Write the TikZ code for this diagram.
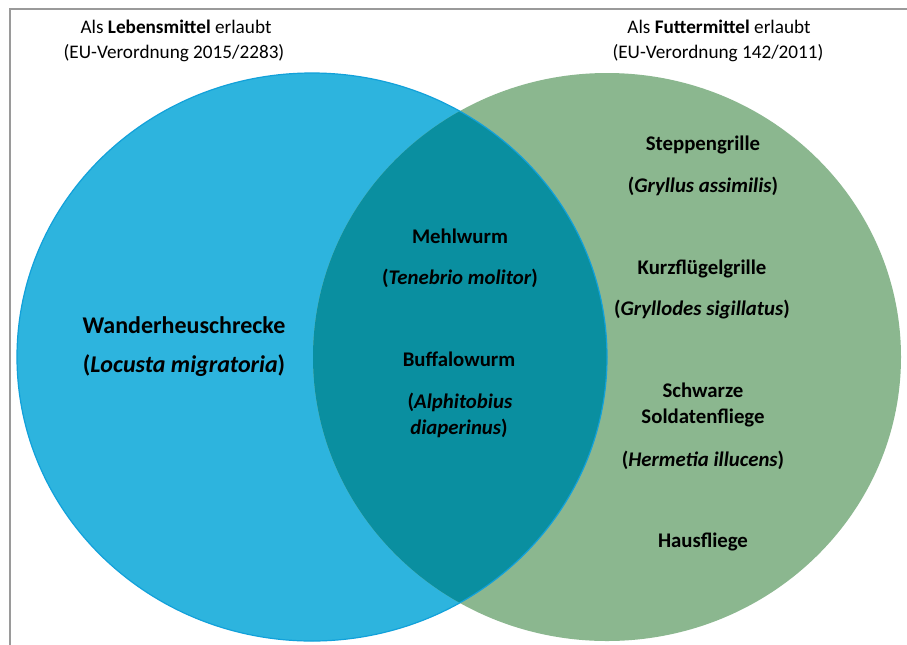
\documentclass[tikz,border=0pt]{standalone}
\usepackage{fontspec}
\setmainfont{Carlito}
\definecolor{blueF}{HTML}{2DB4DE}
\definecolor{blueL}{HTML}{12A1DA}
\definecolor{greenF}{HTML}{8BB78F}
\definecolor{overF}{HTML}{0A8FA0}
\definecolor{frameC}{HTML}{9A9A9A}
\tikzset{
  hdr/.style={anchor=base,font=\fontsize{14.4}{17}\selectfont,text=black,inner sep=0pt},
  lbl/.style={anchor=base,font=\fontsize{15.6}{18}\selectfont\bfseries,text=black,inner sep=0pt},
  lblbig/.style={anchor=base,font=\fontsize{18}{21}\selectfont\bfseries,text=black,inner sep=0pt},
}
\begin{document}
\begin{tikzpicture}[x=0.75pt,y=-0.75pt]
\useasboundingbox (0,0) rectangle (907,644);
\fill[white] (0,0) rectangle (907,644);
\begin{scope}
\clip (0,0) rectangle (907,644);
\draw[frameC,line width=1.1pt] (10,9) rectangle (930,670);
\end{scope}
% circles
\fill[blueF] (312,357) ellipse [x radius=221.25pt, y radius=213pt];
\fill[greenF] (607,357) ellipse [x radius=220.5pt, y radius=213pt];
\begin{scope}
\clip (312,357) ellipse [x radius=221.25pt, y radius=213pt];
\fill[overF] (607,357) ellipse [x radius=220.5pt, y radius=213pt];
\end{scope}
\draw[blueL,line width=0.9pt] (312,357) ellipse [x radius=221.25pt, y radius=213pt];
% headers
\node[hdr] (h1) at (176,33.5) {Als \textbf{Lebensmittel} erlaubt};
\node[hdr] (h2) at (174,58.5) {(EU-Verordnung 2015/2283)};
\node[hdr] (h3) at (719,33.5) {Als \textbf{Futtermittel} erlaubt};
\node[hdr] (h4) at (718,58.5) {(EU-Verordnung 142/2011)};
% blue only
\node[lblbig] (w1) at (184,333) {Wanderheuschrecke};
\node[lblbig] (w2) at (184,372) {(\textit{Locusta migratoria})};
% overlap
\node[lbl] (m1) at (460,243.5) {Mehlwurm};
\node[lbl] (m2) at (460,284.5) {(\textit{Tenebrio molitor})};
\node[lbl] (b1) at (459,366.5) {Buffalowurm};
\node[lbl] (b2) at (460,408.5) {(\textit{Alphitobius}};
\node[lbl] (b3) at (459,434.5) {\textit{diaperinus})};
% green only
\node[lbl] (s1) at (703,150.5) {Steppengrille};
\node[lbl] (s2) at (703,192.5) {(\textit{Gryllus assimilis})};
\node[lbl] (k1) at (702,274.5) {Kurzflügelgrille};
\node[lbl] (k2) at (702,315.5) {(\textit{Gryllodes sigillatus})};
\node[lbl] (f1) at (703,397.5) {Schwarze};
\node[lbl] (f2) at (703,423.5) {Soldatenfliege};
\node[lbl] (f3) at (703,466.5) {(\textit{Hermetia illucens})};
\node[lbl] (hf) at (703,547.5) {Hausfliege};
\end{tikzpicture}
\end{document}
